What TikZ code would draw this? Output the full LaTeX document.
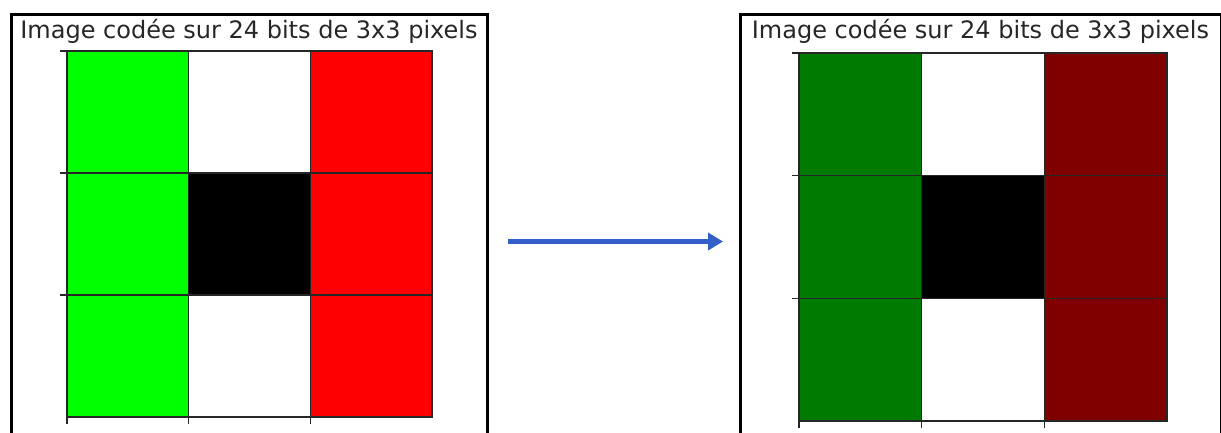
\documentclass[tikz,border=0pt]{standalone}
\usepackage{fontspec}
\setmainfont{DejaVu Sans}
\usetikzlibrary{arrows.meta}
\definecolor{arrowblue}{RGB}{50,96,200}
\definecolor{brightgreen}{RGB}{0,255,0}
\definecolor{brightred}{RGB}{255,0,0}
\definecolor{darkgreen}{RGB}{0,122,0}
\definecolor{darkred}{RGB}{128,0,0}
\tikzset{
  frame/.style={draw=black, line width=3pt},
  cellbox/.style={draw=black!85, line width=1.4pt, inner sep=0pt, outer sep=0pt, anchor=north west},
  tick/.style={draw=black!85, line width=1.4pt},
  titletext/.style={font=\fontsize{24}{28}\selectfont, text=black!85, anchor=base, inner sep=0pt},
  flow/.style={draw=arrowblue, line width=4.2pt, -{Triangle[length=15pt,width=17pt]}}
}
\newcommand{\drawpanel}[7]{%
  % #1 x0, #2 y0, #3 cw, #4 ch, #5 left colour, #6 right colour, #7 prefix
  \foreach \i in {0,1,2}{%
    \node[cellbox, fill=#5, minimum width=#3pt, minimum height=#4pt] (#7c\i0) at ({#1+0*#3},{#2+\i*#4}) {};
    \node[cellbox, fill=#6, minimum width=#3pt, minimum height=#4pt] (#7c\i2) at ({#1+2*#3},{#2+\i*#4}) {};
  }
  \node[cellbox, fill=white, minimum width=#3pt, minimum height=#4pt] (#7c01) at ({#1+#3},{#2}) {};
  \node[cellbox, fill=black, minimum width=#3pt, minimum height=#4pt] (#7c11) at ({#1+#3},{#2+#4}) {};
  \node[cellbox, fill=white, minimum width=#3pt, minimum height=#4pt] (#7c21) at ({#1+#3},{#2+2*#4}) {};
  \draw[tick] ({#1-7},{#2+#4}) -- ({#1+3*#3},{#2+#4});
  \draw[tick] ({#1-7},{#2+2*#4}) -- ({#1+3*#3},{#2+2*#4});
  \draw[tick] ({#1-7},{#2}) -- ({#1},{#2});
  \foreach \j in {0,1,2}{%
    \draw[tick] ({#1+\j*#3},{#2+3*#4}) -- ({#1+\j*#3},{#2+3*#4+7});
  }
}
\begin{document}
\begin{tikzpicture}[x=1pt,y=-1pt]
  \useasboundingbox (0,0) rectangle (1221,432);
  \clip (0,0) rectangle (1221,432);
  \fill[white] (0,0) rectangle (1221,432);
  % left panel
  \node[frame, inner sep=0pt, minimum width=476pt, minimum height=440pt, anchor=north west] (leftframe) at (9.5,12.5) {};
  \node[titletext] (lefttitle) at (249,38.5) {Image codée sur 24 bits de 3x3 pixels};
  \drawpanel{67}{51}{121.7}{122}{brightgreen}{brightred}{L}
  % right panel
  \node[frame, inner sep=0pt, minimum width=481pt, minimum height=440pt, anchor=north west] (rightframe) at (738.5,12.5) {};
  \node[titletext] (righttitle) at (980.5,38.5) {Image codée sur 24 bits de 3x3 pixels};
  \drawpanel{799}{53}{122.7}{122.7}{darkgreen}{darkred}{R}
  % arrow
  \coordinate (arrowstart) at (508,241.5);
  \coordinate (arrowend) at (723,241.5);
  \draw[flow] (arrowstart) -- (arrowend);
\end{tikzpicture}
\end{document}
